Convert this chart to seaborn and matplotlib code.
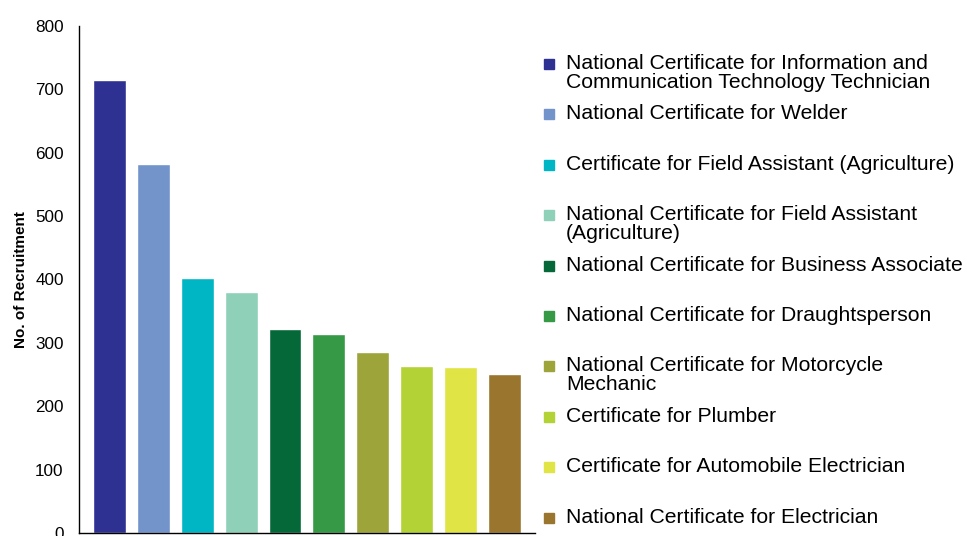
import pandas as pd
import seaborn as sns
import matplotlib.pyplot as plt
from matplotlib.patches import Rectangle

# data
programmes = [
    "National Certificate for Information and\nCommunication Technology Technician",
    "National Certificate for Welder",
    "Certificate for Field Assistant (Agriculture)",
    "National Certificate for Field Assistant\n(Agriculture)",
    "National Certificate for Business Associate",
    "National Certificate for Draughtsperson",
    "National Certificate for Motorcycle\nMechanic",
    "Certificate for Plumber",
    "Certificate for Automobile Electrician",
    "National Certificate for Electrician",
]
recruitment = [715, 583, 402, 380, 322, 314, 286, 263, 262, 251]
colours = ["#2E3192", "#7393CB", "#00B5C4", "#8FD0B8", "#056839",
           "#359946", "#9DA43A", "#B2D235", "#E0E444", "#99752E"]

df = pd.DataFrame({"Programme": programmes, "Recruitment": recruitment})

sns.set_style("white")
plt.rcParams['font.family'] = ['Liberation Sans', 'DejaVu Sans']
plt.rcParams['text.color'] = 'black'
plt.rcParams['ytick.color'] = 'black'
plt.rcParams['axes.labelcolor'] = 'black'

fig = plt.figure(figsize=(9.67, 5.36), dpi=100)
ax = fig.add_axes([0.0817, 0.0056, 0.4713, 0.9459])

sns.barplot(data=df, x="Programme", y="Recruitment", hue="Programme",
            palette=colours, width=0.75, legend=False, saturation=1, ax=ax)

ax.set_ylim(0, 800)
ax.set_xlim(-0.7, 9.7)
ax.set_yticks(range(0, 801, 100))
ax.tick_params(axis='y', labelsize=12.3, length=0, pad=11)
ax.set_xticks([])
ax.set_xlabel("")
ax.set_ylabel("No. of Recruitment", fontsize=11, fontweight='bold', labelpad=5)
sns.despine(ax=ax)
for s in ["left", "bottom"]:
    ax.spines[s].set_color("black")
    ax.spines[s].set_linewidth(1)

# legend drawn by hand so the marker sits on the first line of each label
W, H = 967, 536
for i, (lab, col) in enumerate(zip(programmes, colours)):
    yc = 64 + i * 50.4
    fig.add_artist(Rectangle((544 / W, 1 - (yc + 5) / H), 10 / W, 10 / H,
                             transform=fig.transFigure, color=col))
    fig.text(566 / W, 1 - (yc - 10) / H, lab, fontsize=15.2, va='top',
             ha='left', linespacing=1.0)

plt.savefig("out.png", dpi=100)
